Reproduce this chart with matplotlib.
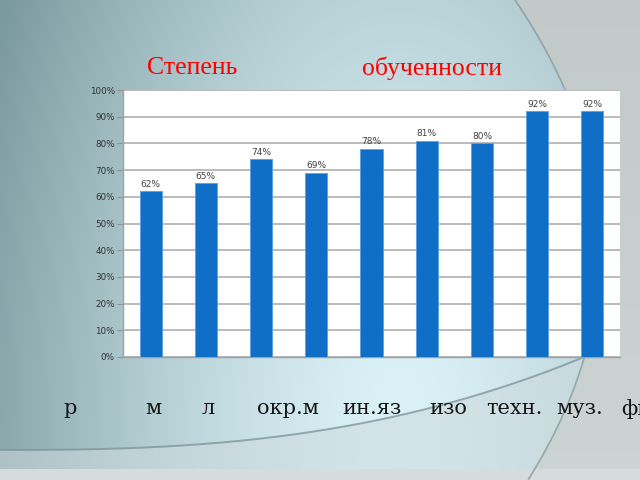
import matplotlib.pyplot as plt
from matplotlib.ticker import PercentFormatter
import numpy as np

# данные
subjects = ['р', 'м', 'л', 'окр.м', 'ин.яз', 'изо', 'техн.', 'муз.', 'физ.']
values = [62, 65, 74, 69, 78, 81, 80, 92, 92]
ticks = list(range(0, 101, 10))

W, H = 640, 480


def arc_x(y):
    # правая дуга фона
    return 600 - 0.00136 * (y - 250) ** 2


def wave_y(x):
    # нижняя волна фона
    return 450 - 93 * (np.clip(x, 0, None) / 584) ** 2.6


def make_background():
    yy, xx = np.mgrid[0:H, 0:W].astype(float)
    d = np.sqrt(((xx - 400) / 450) ** 2 + ((yy - 440) / 900) ** 2)
    t = np.clip(d, 0, 1) ** 1.5
    light = np.array([0.86, 0.95, 0.97])
    dark = np.array([0.48, 0.60, 0.62])
    img = light * (1 - t[..., None]) + dark * t[..., None]
    # под волной светлее и серее
    below = yy > wave_y(xx)
    img[below] = img[below] * 0.45 + np.array([0.80, 0.85, 0.86]) * 0.55
    # справа за дугой серое
    right = xx > arc_x(yy)
    g = 0.76 + 0.04 * (yy / H)
    img[right] = np.stack([g, g + 0.03, g + 0.03], axis=-1)[right]
    img[yy > 468] = np.array([0.84, 0.86, 0.86])
    return img


def main():
    fig = plt.figure(figsize=(6.4, 4.8), dpi=100)
    bg_ax = fig.add_axes([0, 0, 1, 1])
    bg_ax.imshow(make_background(), extent=(0, W, H, 0), aspect='auto')
    xs = np.arange(0, 600)
    bg_ax.plot(xs, wave_y(xs), color='#7f979b', lw=1.4, alpha=0.8)
    ys = np.arange(0, H)
    bg_ax.plot(arc_x(ys), ys, color='#8a9a9c', lw=1.2, alpha=0.8)
    bg_ax.set_xlim(0, W)
    bg_ax.set_ylim(H, 0)
    bg_ax.axis('off')

    ax = fig.add_axes([123 / W, (H - 357) / H, (620 - 123) / W, (357 - 90) / H])
    ax.set_facecolor('white')
    x = np.arange(len(values))
    bars = ax.bar(x, values, width=0.4, color='#0f6fc6', edgecolor='#5aa0e0',
                  linewidth=0.6, zorder=3)
    for b, v in zip(bars, values):
        ax.text(b.get_x() + b.get_width() / 2, v + 1, f'{v}%', ha='center',
                va='bottom', fontsize=6.5, color='#404040', zorder=4)

    ax.set_xlim(-0.5, len(values) - 0.5)
    ax.set_ylim(0, 100)
    ax.set_yticks(ticks)
    ax.yaxis.set_major_formatter(PercentFormatter(decimals=0))
    ax.tick_params(axis='y', labelsize=6.3, labelcolor='#303030', color='#909090',
                   length=4, width=0.8, pad=2)
    ax.set_xticks([])
    ax.grid(axis='y', color='#a8a8a8', linewidth=1.1, zorder=0)
    for s in ['top', 'right']:
        ax.spines[s].set_visible(False)
    for s in ['left', 'bottom']:
        ax.spines[s].set_color('#a0a0a0')
        ax.spines[s].set_linewidth(1.0)

    # заголовок
    fig.text(147 / W, 1 - 68 / H, 'Степень', color='red', fontsize=18.5,
             family='Liberation Serif', va='center', ha='left')
    fig.text(362 / W, 1 - 68 / H, 'обученности', color='red', fontsize=18.5,
             family='Liberation Serif', va='center', ha='left')

    # подписи снизу (последняя обрезана краем, как на слайде)
    label_x = [70, 153, 208, 288, 372, 448, 514, 580, 645]
    for name, lx in zip(subjects, label_x):
        fig.text(lx / W, 1 - 409 / H, name, fontsize=15, family='DejaVu Serif',
                 color='#151515', ha='center', va='center')

    fig.savefig('out.png', dpi=100)
    plt.close(fig)


if __name__ == "__main__":
    main()
